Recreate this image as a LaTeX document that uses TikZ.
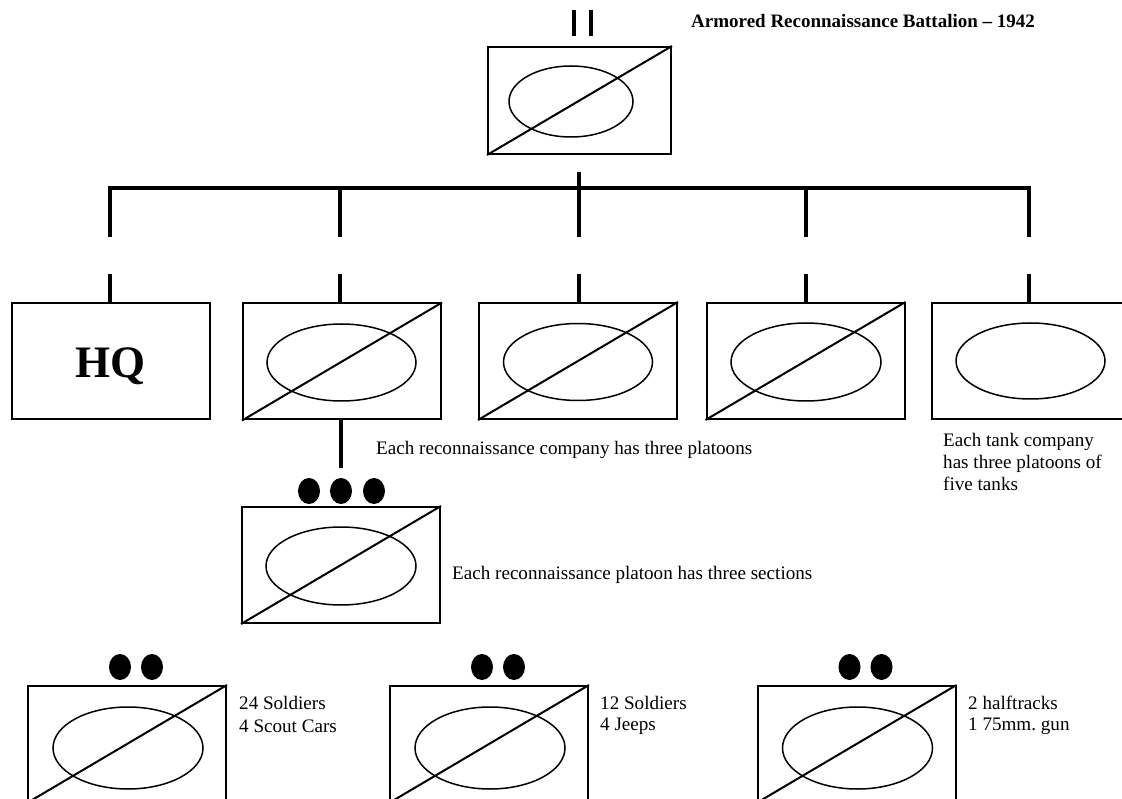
\documentclass[tikz,border=0pt]{standalone}
\usepackage{fontspec}
\setmainfont{Liberation Serif}
\usetikzlibrary{shapes.geometric}
\frenchspacing
\tikzset{
  unitbox/.style={draw,line width=2pt,minimum width=198pt,minimum height=116pt,inner sep=0pt},
  oval/.style={draw,ellipse,line width=1.5pt,inner sep=0pt},
  diag/.style={line width=2pt},
  conn/.style={line width=4pt},
  dot/.style={fill=black,ellipse,inner sep=0pt,minimum width=22pt,minimum height=26pt},
  lbl/.style={anchor=west,inner sep=0pt,font=\fontsize{19.1}{22}\selectfont},
}
\begin{document}
\begin{tikzpicture}[x=1pt,y=-1pt]
\useasboundingbox (0,0) rectangle (1122,799);
\clip (0,0) rectangle (1122,799);
% battalion
\node[unitbox,minimum width=183pt,minimum height=107pt] (bn) at (579.5,100.5) {};
\node[oval,minimum width=124pt,minimum height=71pt] (bno) at (571,101.5) {};
\draw[diag] (bn.south west) -- (bn.north east);
\coordinate (ii1a) at (574,10); \coordinate (ii1b) at (574,36);
\coordinate (ii2a) at (591,10); \coordinate (ii2b) at (591,36);
\draw[conn] (ii1a) -- (ii1b);
\draw[conn] (ii2a) -- (ii2b);
\node[anchor=west,inner sep=0pt,font=\fontsize{19}{22}\selectfont\bfseries] (title) at (691,21) {Armored Reconnaissance Battalion – 1942};
% companies
\node[unitbox] (hq) at (110.5,361) {};
\node[font=\fontsize{45}{50}\selectfont\bfseries] (hqt) at ([yshift=-5pt]hq.center) {HQ};
\node[unitbox] (r1) at (342,361.5) {};
\node[oval,minimum width=149pt,minimum height=77pt] (r1o) at (341.5,362.5) {};
\draw[diag] (r1.south west) -- (r1.north east);
\node[unitbox] (r2) at (578,361) {};
\node[oval,minimum width=149pt,minimum height=77pt] (r2o) at (578,362) {};
\draw[diag] (r2.south west) -- (r2.north east);
\node[unitbox] (r3) at (805.5,361) {};
\node[oval,minimum width=150pt,minimum height=78pt] (r3o) at (806,362) {};
\draw[diag] (r3.south west) -- (r3.north east);
\node[unitbox] (tk) at (1031,361) {};
\node[oval,minimum width=149pt,minimum height=76pt] (tko) at (1030.5,361) {};
% bus
\coordinate (bnstem) at (579,172);
\coordinate (busL) at (110,188);
\coordinate (busR) at (1029,188);
\draw[conn] (bnstem) -- (579,237);
\draw[conn] (busL) -- (busR);
\foreach \n/\x in {hq/110,r1/340,r2/579,r3/806,tk/1029}{
  \draw[conn] (\x,186) -- (\x,237);
  \draw[conn] (\x,274) -- (\x,303);
}
\node[lbl] (t1) at (376,450) {Each reconnaissance company has three platoons};
\node[lbl,align=left] (t2) at (943,462) {Each tank company\\has three platoons of\\five tanks};
% platoon
\node[unitbox] (pl) at (341,565) {};
\node[oval,minimum width=150pt,minimum height=78pt] (plo) at (341,566) {};
\draw[diag] (pl.south west) -- (pl.north east);
\coordinate (r1b) at (341,420);
\draw[conn] (r1b) -- (341,468);
\node[dot] (pd1) at (309,491) {};
\node[dot] (pd2) at (341,491) {};
\node[dot] (pd3) at (374,491) {};
\node[lbl] (t3) at (452,575) {Each reconnaissance platoon has three sections};
% sections
\foreach \n/\cx/\tx/\la/\lb in {s1/127/239/24 Soldiers/4 Scout Cars, s2/489/600/12 Soldiers/4 Jeeps, s3/856.5/968/2 halftracks/1 75mm. gun}{
  \node[unitbox] (\n) at (\cx,744) {};
  \node[oval,minimum width=150pt,minimum height=82pt] (\n o) at (\cx+1,748) {};
  \draw[diag] (\n.south west) -- (\n.north east);
  \node[dot] (\n d1) at (\cx-7,667) {};
  \node[dot] (\n d2) at (\cx+25,667) {};
  \node[lbl] (\n a) at (\tx,703) {\la};
  \node[lbl] (\n b) at (\tx,726) {\lb};
}
\end{tikzpicture}
\end{document}
